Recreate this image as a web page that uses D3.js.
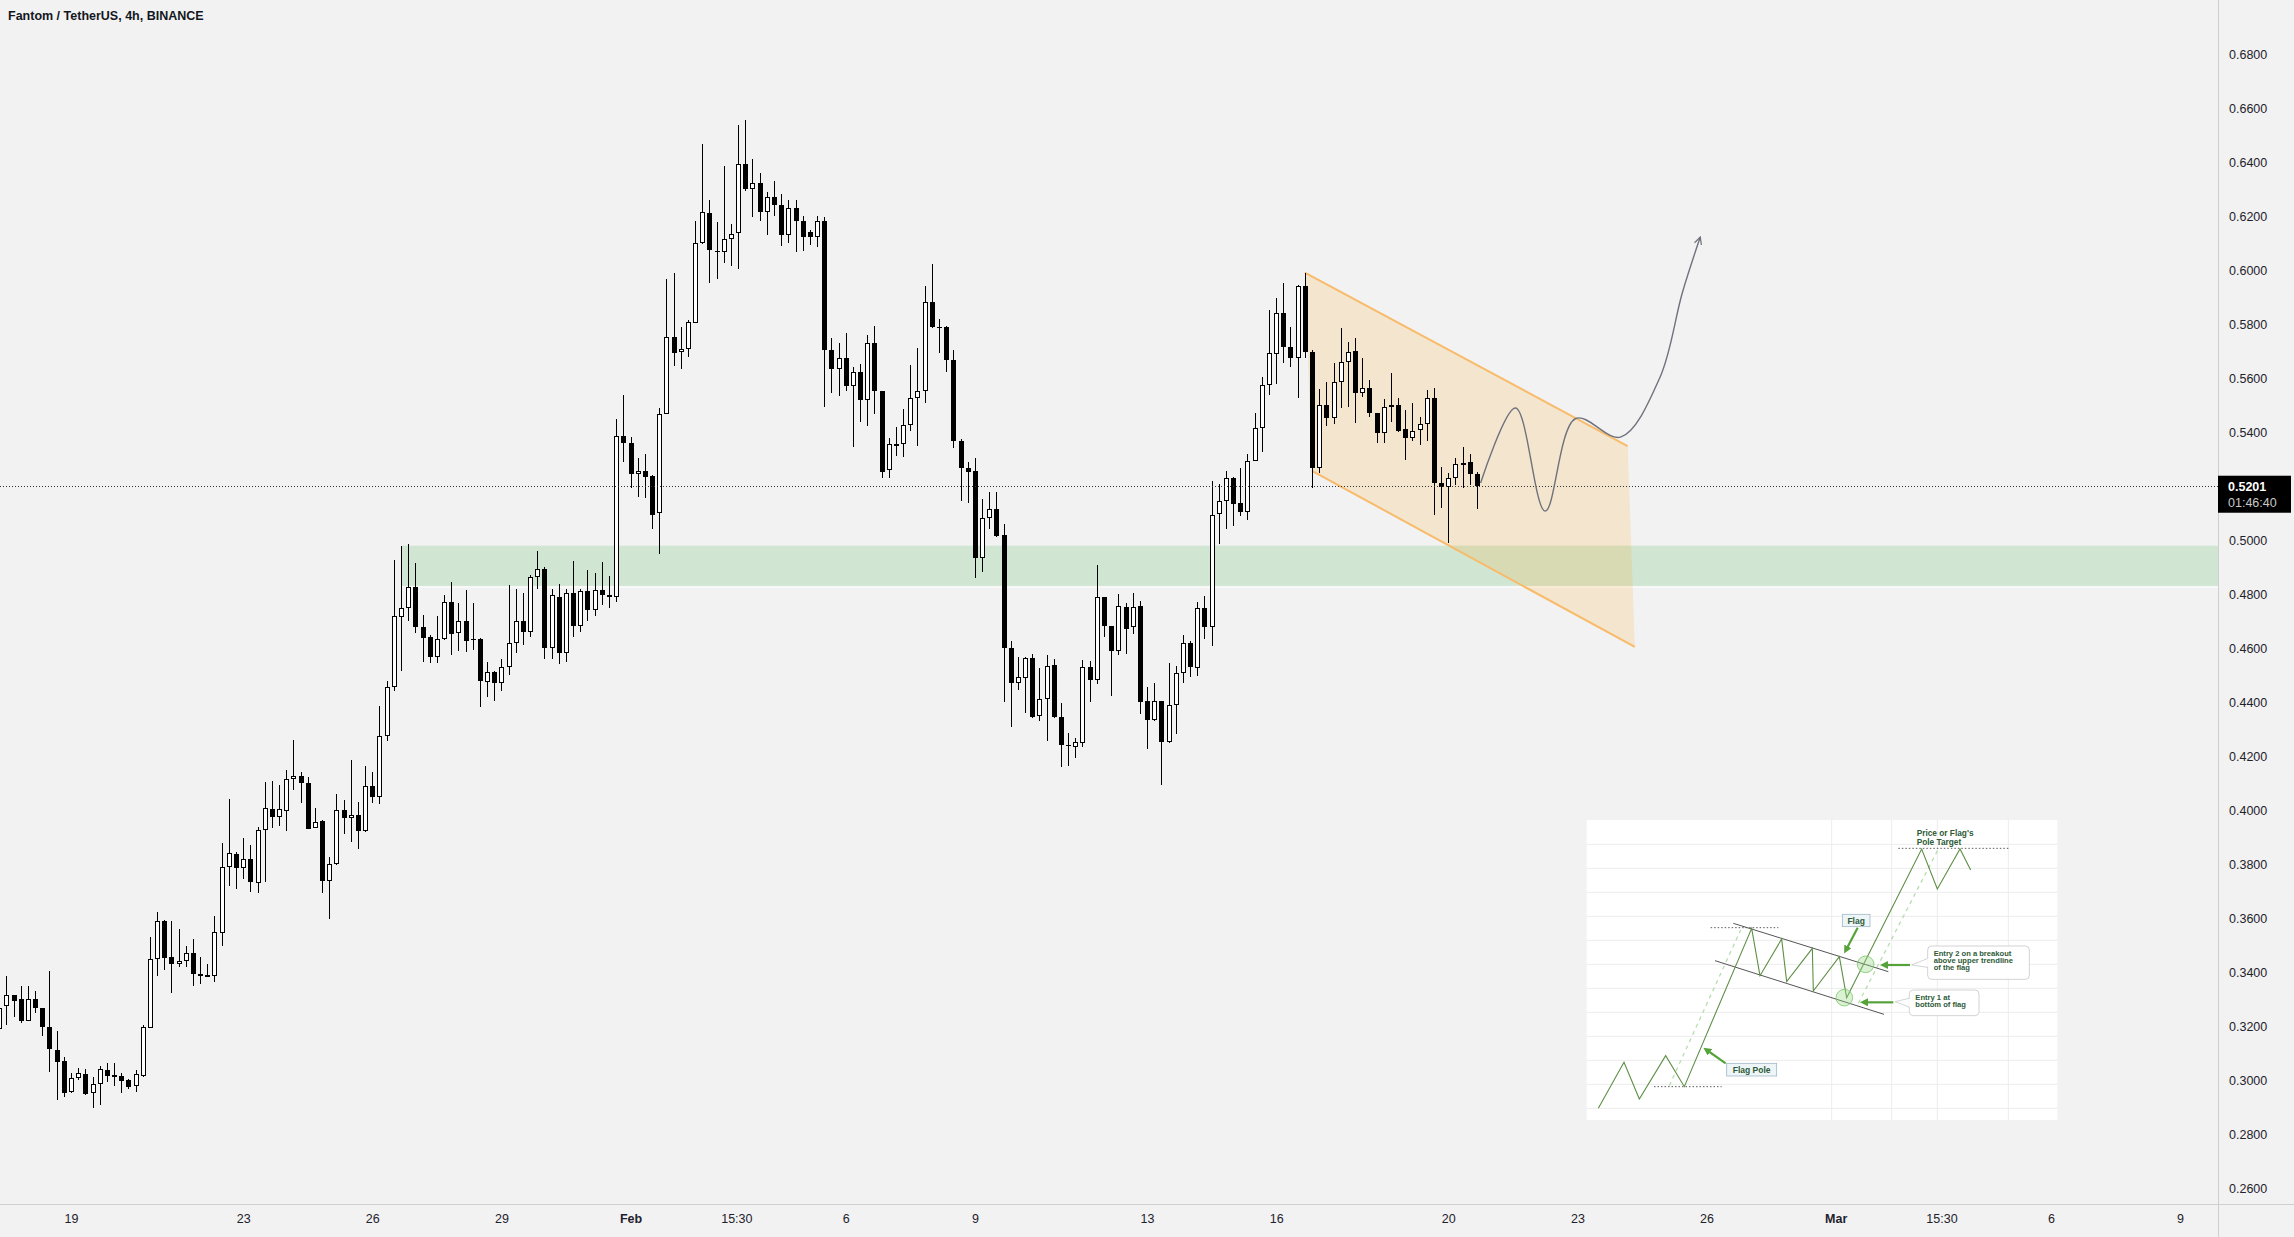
<!DOCTYPE html>
<html><head><meta charset="utf-8">
<script src="https://cdn.jsdelivr.net/npm/d3@7"></script>
<style>
html,body{margin:0;padding:0;background:#f2f2f2;}
svg{display:block;font-family:"Liberation Sans",Arial,sans-serif;}
</style></head>
<body>
<svg id="chart" width="2294" height="1237"></svg>
<script>
// ---------- DATA ----------
const title = "Fantom / TetherUS, 4h, BINANCE";
const firstCandle = "2023-01-17T08:00:00Z";   // 4h candles
const opens = [
.3188,.3273,.3314,.3299,.3220,.3299,.3266,.3198,.3111,.3070,
.2954,.3006,.3021,.2951,.2984,.3037,.3017,.3015,.3000,.2977,
.3016,.3194,.3447,.3590,.3454,.3428,.3442,.3472,.3391,.3385,
.3385,.3543,.3790,.3836,.3784,.3817,.3728,.3926,.4002,.3973,
.3997,.4114,.4126,.4099,.3935,.3959,.3738,.3799,.4000,.3969,
.3981,.3923,.4089,.4049,.4275,.4457,.4716,.4747,.4825,.4677,
.4640,.4568,.4632,.4769,.4657,.4701,.4635,.4635,.4475,.4512,
.4469,.4530,.4620,.4700,.4660,.4862,.4891,.4600,.4790,.4580,
.4802,.4680,.4811,.4740,.4815,.4796,.4788,.5385,.5358,.5243,
.5256,.5237,.5099,.5467,.5751,.5695,.5706,.5805,.6099,.6210,
.6072,.6068,.6114,.6136,.6391,.6301,.6321,.6216,.6270,.6240,
.6130,.6230,.6180,.6141,.6122,.6180,.5702,.5632,.5675,.5571,
.5622,.5520,.5731,.5550,.5259,.5352,.5354,.5427,.5526,.5550,
.5880,.5788,.5788,.5665,.5365,.5268,.5255,.4934,.5083,.5114,
.5017,.4599,.4470,.4489,.4562,.4348,.4410,.4536,.4344,.4242,
.4235,.4249,.4529,.4480,.4788,.4681,.4590,.4751,.4676,.4754,
.4403,.4335,.4403,.4251,.4388,.4506,.4619,.4526,.4747,.4679,
.5095,.5144,.5231,.5138,.5104,.5294,.5414,.5574,.5688,.5840,
.5716,.5673,.5941,.5698,.5265,.5500,.5451,.5586,.5661,.5700,
.5543,.5562,.5469,.5398,.5491,.5500,.5410,.5377,.5407,.5430,
.5525,.5210,.5198,.5228,.5280,.5288,.5244];
const highs = [
.3278,.3385,.3316,.3348,.3348,.3328,.3268,.3404,.3182,.3084,
.3025,.3043,.3040,.3010,.3052,.3062,.3062,.3027,.3005,.3037,
.3204,.3528,.3621,.3593,.3588,.3558,.3498,.3522,.3454,.3428,
.3607,.3879,.4041,.3846,.3895,.3870,.3938,.4102,.4107,.4093,
.4148,.4259,.4140,.4123,.4006,.3963,.3825,.4059,.4037,.4185,
.4031,.4164,.4140,.4385,.4478,.4926,.4979,.4984,.4916,.4722,
.4648,.4719,.4796,.4846,.4765,.4815,.4765,.4637,.4549,.4515,
.4560,.4833,.4817,.4805,.4870,.4960,.4901,.4817,.4836,.4820,
.4922,.4820,.4889,.4876,.4918,.4866,.5448,.5537,.5380,.5302,
.5318,.5240,.5488,.5967,.5990,.5790,.5815,.6183,.6467,.6259,
.6177,.6385,.6169,.6537,.6556,.6410,.6360,.6290,.6330,.6280,
.6260,.6260,.6200,.6150,.6200,.6195,.5749,.5731,.5767,.5642,
.5652,.5760,.5794,.5552,.5377,.5418,.5484,.5649,.5712,.5940,
.6022,.5820,.5794,.5702,.5374,.5288,.5304,.5153,.5176,.5176,
.5060,.4626,.4566,.4566,.4579,.4526,.4573,.4560,.4398,.4286,
.4266,.4556,.4553,.4907,.4790,.4683,.4800,.4767,.4804,.4774,
.4456,.4471,.4405,.4546,.4533,.4649,.4626,.4771,.4794,.5217,
.5208,.5254,.5233,.5267,.5320,.5470,.5605,.5852,.5895,.5951,
.5788,.5944,.5988,.5704,.5558,.5584,.5657,.5784,.5732,.5747,
.5673,.5593,.5472,.5521,.5617,.5525,.5481,.5509,.5457,.5556,
.5562,.5269,.5247,.5302,.5343,.5318,.5253];
const lows = [
.3179,.3204,.3232,.3210,.3218,.3250,.3163,.3031,.2926,.2938,
.2952,.3000,.2945,.2898,.2908,.2994,.2979,.2953,.2965,.2954,
.3012,.3191,.3387,.3408,.3321,.3417,.3420,.3348,.3354,.3383,
.3364,.3498,.3719,.3706,.3743,.3698,.3694,.3735,.3935,.3942,
.3924,.4074,.4027,.3928,.3933,.3691,.3595,.3797,.3911,.3883,
.3854,.3920,.4027,.4021,.4256,.4442,.4516,.4701,.4654,.4549,
.4543,.4543,.4630,.4574,.4590,.4586,.4593,.4383,.4420,.4405,
.4440,.4500,.4580,.4610,.4640,.4820,.4560,.4560,.4540,.4550,
.4640,.4660,.4700,.4720,.4760,.4750,.4770,.5290,.5194,.5160,
.5157,.5041,.4948,.5465,.5644,.5633,.5679,.5803,.6097,.5953,
.5967,.6025,.6015,.6002,.6294,.6198,.6180,.6130,.6200,.6090,
.6100,.6066,.6069,.6093,.6085,.5493,.5546,.5533,.5550,.5344,
.5438,.5421,.5467,.5229,.5231,.5312,.5308,.5405,.5348,.5509,
.5786,.5694,.5623,.5339,.5143,.5136,.4858,.4882,.5040,.5010,
.4399,.4308,.4444,.4361,.4341,.4331,.4255,.4342,.4159,.4163,
.4192,.4233,.4401,.4467,.4639,.4423,.4573,.4579,.4652,.4357,
.4225,.4331,.4094,.4249,.4282,.4470,.4493,.4497,.4632,.4606,
.4987,.5040,.5053,.5089,.5075,.5292,.5327,.5537,.5577,.5654,
.5642,.5525,.5673,.5191,.5249,.5424,.5430,.5488,.5491,.5435,
.5531,.5457,.5358,.5358,.5438,.5401,.5296,.5368,.5352,.5368,
.5093,.5117,.4990,.5204,.5191,.5204,.5113];
const closes = [
.3268,.3314,.3294,.3220,.3299,.3266,.3198,.3114,.3068,.2953,
.3006,.3025,.2949,.2984,.3040,.3016,.3012,.2998,.2975,.3021,
.3198,.3447,.3588,.3453,.3428,.3442,.3472,.3391,.3386,.3388,
.3547,.3790,.3840,.3784,.3817,.3732,.3925,.4006,.3973,.4002,
.4114,.4126,.4099,.3930,.3954,.3738,.3799,.4000,.3969,.3981,
.3923,.4089,.4049,.4275,.4457,.4718,.4747,.4827,.4677,.4638,
.4568,.4632,.4769,.4652,.4701,.4627,.4632,.4479,.4512,.4469,
.4530,.4620,.4700,.4660,.4862,.4891,.4600,.4795,.4580,.4802,
.4680,.4811,.4740,.4815,.4796,.4788,.5385,.5358,.5243,.5256,
.5235,.5092,.5467,.5751,.5691,.5707,.5809,.6099,.6214,.6074,
.6068,.6114,.6132,.6391,.6301,.6321,.6216,.6270,.6240,.6130,
.6230,.6180,.6122,.6122,.6180,.5705,.5632,.5675,.5571,.5622,
.5520,.5731,.5553,.5253,.5354,.5357,.5427,.5526,.5550,.5880,
.5788,.5786,.5665,.5365,.5266,.5252,.4934,.5083,.5114,.5013,
.4600,.4470,.4491,.4562,.4345,.4410,.4533,.4344,.4242,.4238,
.4251,.4529,.4480,.4788,.4681,.4590,.4754,.4672,.4751,.4401,
.4335,.4403,.4251,.4388,.4506,.4619,.4529,.4747,.4679,.5091,
.5144,.5231,.5135,.5102,.5294,.5413,.5574,.5691,.5840,.5716,
.5673,.5941,.5698,.5265,.5500,.5451,.5584,.5661,.5698,.5543,
.5562,.5472,.5398,.5491,.5500,.5405,.5377,.5404,.5430,.5525,
.5210,.5198,.5228,.5280,.5284,.5244,.5201];

const priceTicks = [0.26,0.28,0.30,0.32,0.34,0.36,0.38,0.40,0.42,0.44,0.46,0.48,0.50,0.52,0.54,0.56,0.58,0.60,0.62,0.64,0.66,0.68];
const timeTicks = ["2023-01-19","2023-01-23","2023-01-26","2023-01-29","2023-02-01","2023-02-03T11:00Z","2023-02-06","2023-02-09","2023-02-13","2023-02-16","2023-02-20","2023-02-23","2023-02-26","2023-03-01","2023-03-03T11:00Z","2023-03-06","2023-03-09"];
const timeTickLabels = ["19","23","26","29","Feb","15:30","6","9","13","16","20","23","26","Mar","15:30","6","9"];
const boldTickLabels = ["Feb","Mar"];

const lastPrice = 0.5201, countdown = "01:46:40";
const demandZone = {start:"2023-01-26T16:00Z", top:0.4979, bottom:0.4830};
const channelUpper = [["2023-02-16T16:00Z",0.5990],["2023-02-24T04:00Z",0.5348]];
const channelLower = [["2023-02-16T20:00Z",0.5256],["2023-02-24T08:00Z",0.4604]];
const projection = [
["2023-02-20T18:00Z",0.5211],["2023-02-21T13:30Z",0.5489],["2023-02-22T06:00Z",0.5107],
["2023-02-22T23:00Z",0.5450],["2023-02-24T00:00Z",0.5381],["2023-02-24T22:00Z",0.5602],
["2023-02-25T10:30Z",0.5916],["2023-02-25T20:30Z",0.6122]];

// inset diagram (its own unit space)
const insetFrame = [20,15,1432,915];
const insetGridRows = [88,160,232,304,376,448,520,592,664,736,808,880];
const insetGridCols = [755,935,1072,1285];
const insetPrice = [[55,880],[132,742],[178,852],[257,722],[313,815],[515,340],[540,482],[605,372],[620,500],[697,400],[700,528],[778,425],[800,548],[1025,102],[1072,222],[1140,102],[1172,165]];
const insetShadows = [[[268,812],[482,345]],[[835,565],[1075,102]]];
const insetDotted = [[[222,815],[425,815]],[[392,338],[595,338]],[[955,100],[1285,100]]];
const insetChannel = [[[460,325],[925,470]],[[405,437],[912,598]]];
const insetCircles = [[857,448],[793,548]];
const insetArrows = [[[833,338],[798,405]],[[437,745],[380,705]],[[990,450],[912,450]],[[940,562],[852,562]]];
const insetTags = [{x0:787,y0:298,x1:870,y1:335,text:"Flag"},{x0:440,y0:745,x1:590,y1:783,text:"Flag Pole"}];
const insetCallouts = [
 {x0:1043,y0:393,x1:1348,y1:493,tip:[995,450],lines:["Entry 2 on a breakout","above upper trendline","of the flag"]},
 {x0:988,y0:525,x1:1197,y1:602,tip:[945,560],lines:["Entry 1 at","bottom of flag"]}];
const insetTarget = {x:1010,y:55,lines:["Price or Flag's","Pole Target"]};

// ---------- CHART ----------
const W=2294,H=1237, plotR=2218, plotB=1204;
const svg=d3.select("#chart");
const parse=s=>new Date(s.length===10? s+"T00:00:00Z" : s);
const t0=parse(firstCandle).getTime();
const candles=opens.map((o,i)=>({t:new Date(t0+i*4*3600e3),o,h:highs[i],l:lows[i],c:closes[i]}));

const x=d3.scaleUtc().domain([parse("2023-01-19"),parse("2023-03-09")]).range([71,2180]);
const y=d3.scaleLinear().domain([0.26,0.68]).range([1188,54]);

svg.append("rect").attr("width",W).attr("height",H).attr("fill","#f2f2f2");
svg.append("defs").append("clipPath").attr("id","plot").append("rect").attr("x",0).attr("y",0).attr("width",plotR).attr("height",plotB);
const plot=svg.append("g").attr("clip-path","url(#plot)");

// demand zone
plot.append("rect").attr("x",x(parse(demandZone.start))).attr("y",y(demandZone.top))
 .attr("width",plotR-x(parse(demandZone.start))).attr("height",y(demandZone.bottom)-y(demandZone.top))
 .attr("fill","#d0e6d3");
plot.append("line").attr("x1",x(parse(demandZone.start))).attr("x2",plotR)
 .attr("y1",y(demandZone.bottom)+1).attr("y2",y(demandZone.bottom)+1).attr("stroke","#f8f8f8").attr("stroke-width",2);

// channel
const cu=channelUpper.map(d=>[x(parse(d[0])),y(d[1])]), cl=channelLower.map(d=>[x(parse(d[0])),y(d[1])]);
plot.append("path").attr("d",d3.line()([cu[0],cu[1],cl[1],cl[0]])+"Z").attr("fill","rgba(255,152,0,0.15)");
[cu,cl].forEach(l=>plot.append("path").attr("d",d3.line()(l)).attr("stroke","#f7bb6a").attr("stroke-width",2).attr("fill","none"));

// candles
const cg=plot.append("g").attr("shape-rendering","crispEdges");
cg.selectAll("line").data(candles).join("line")
 .attr("x1",d=>Math.round(x(d.t))+0.5).attr("x2",d=>Math.round(x(d.t))+0.5)
 .attr("y1",d=>Math.round(y(d.h))).attr("y2",d=>Math.round(y(d.l)))
 .attr("stroke","#000").attr("stroke-width",1);
cg.selectAll("rect").data(candles).join("rect")
 .each(function(d){
   const cx=Math.round(x(d.t)), top=Math.round(y(Math.max(d.o,d.c))), bot=Math.round(y(Math.min(d.o,d.c)));
   const s=d3.select(this);
   if(d.c>=d.o){ s.attr("x",cx-1.5).attr("y",top+0.5).attr("width",4).attr("height",Math.max(1,bot-top-1)).attr("fill","#fff").attr("stroke","#000").attr("stroke-width",1); }
   else { s.attr("x",cx-2).attr("y",top).attr("width",5).attr("height",Math.max(1,bot-top)).attr("fill","#000"); }
 });

// last price line
plot.append("line").attr("x1",0).attr("x2",plotR).attr("y1",Math.round(y(lastPrice))+0.5).attr("y2",Math.round(y(lastPrice))+0.5)
 .attr("stroke","#333").attr("stroke-dasharray","1,2");

// projection path
const defs=svg.select("defs");
defs.append("marker").attr("id","arr").attr("viewBox","0 0 10 10").attr("refX",9).attr("refY",5)
 .attr("markerWidth",9).attr("markerHeight",9).attr("markerUnits","userSpaceOnUse").attr("orient","auto")
 .append("path").attr("d","M1,1 L9,5 L1,9").attr("fill","none").attr("stroke","#6f727c").attr("stroke-width",1.4);
plot.append("path").attr("d",d3.line().curve(d3.curveCatmullRom.alpha(0.5))(projection.map(d=>[x(parse(d[0])),y(d[1])])))
 .attr("fill","none").attr("stroke","#6f727c").attr("stroke-width",1.4).attr("marker-end","url(#arr)");

// ---------- INSET ----------
const ix=d3.scaleLinear().domain([0,1440]).range([1580,2060]);
const iy=d3.scaleLinear().domain([0,930]).range([815,1125]);
const ins=svg.append("g");
const P=p=>[ix(p[0]),iy(p[1])];
ins.append("rect").attr("x",ix(insetFrame[0])).attr("y",iy(insetFrame[1])).attr("width",ix(insetFrame[2])-ix(insetFrame[0])).attr("height",iy(insetFrame[3])-iy(insetFrame[1])).attr("fill","#fff");
ins.selectAll(".gr").data(insetGridRows).join("line").attr("x1",ix(insetFrame[0])).attr("x2",ix(insetFrame[2])).attr("y1",d=>iy(d)).attr("y2",d=>iy(d)).attr("stroke","#ececec");
ins.selectAll(".gc").data(insetGridCols).join("line").attr("y1",iy(insetFrame[1])).attr("y2",iy(insetFrame[3])).attr("x1",d=>ix(d)).attr("x2",d=>ix(d)).attr("stroke","#ececec");
insetShadows.forEach(s=>ins.append("path").attr("d",d3.line()(s.map(P))).attr("stroke","#b8ddb0").attr("stroke-width",1.3).attr("stroke-dasharray","4,4").attr("fill","none"));
insetDotted.forEach(s=>ins.append("path").attr("d",d3.line()(s.map(P))).attr("stroke","#333").attr("stroke-width",0.8).attr("stroke-dasharray","1.5,2").attr("fill","none"));
insetChannel.forEach(s=>ins.append("path").attr("d",d3.line()(s.map(P))).attr("stroke","#555").attr("stroke-width",1).attr("fill","none"));
ins.append("path").attr("d",d3.line()(insetPrice.map(P))).attr("stroke","#5e8f46").attr("stroke-width",1.1).attr("fill","none");
ins.selectAll("circle").data(insetCircles).join("circle").attr("cx",d=>ix(d[0])).attr("cy",d=>iy(d[1])).attr("r",8.3)
 .attr("fill","rgba(150,215,130,0.35)").attr("stroke","#7cc46a").attr("stroke-width",0.8);
defs.append("marker").attr("id","garr").attr("viewBox","0 0 10 10").attr("refX",5).attr("refY",5)
 .attr("markerWidth",8).attr("markerHeight",8).attr("markerUnits","userSpaceOnUse").attr("orient","auto")
 .append("path").attr("d","M0,0 L10,5 L0,10 Z").attr("fill","#57a33b");
insetArrows.forEach(s=>ins.append("path").attr("d",d3.line()(s.map(P))).attr("stroke","#57a33b").attr("stroke-width",2.2).attr("fill","none").attr("marker-end","url(#garr)"));
const txtCol="#2d5b35";
insetTags.forEach(t=>{
 ins.append("rect").attr("x",ix(t.x0)).attr("y",iy(t.y0)).attr("width",ix(t.x1)-ix(t.x0)).attr("height",iy(t.y1)-iy(t.y0)).attr("fill","#eef5f8").attr("stroke","#9fb7c6").attr("stroke-width",0.8);
 ins.append("text").attr("x",(ix(t.x0)+ix(t.x1))/2).attr("y",(iy(t.y0)+iy(t.y1))/2).attr("text-anchor","middle").attr("dominant-baseline","central")
  .attr("font-size",8.5).attr("font-weight","bold").attr("fill",txtCol).text(t.text);
});
insetCallouts.forEach(c=>{
 const mid=(iy(c.y0)+iy(c.y1))/2;
 ins.append("path").attr("d",d3.line()([[ix(c.x0)+2,mid-5],P(c.tip),[ix(c.x0)+2,mid+5]])).attr("fill","#fff").attr("stroke","#c8c8c8").attr("stroke-width",0.8);
 ins.append("rect").attr("x",ix(c.x0)).attr("y",iy(c.y0)).attr("width",ix(c.x1)-ix(c.x0)).attr("height",iy(c.y1)-iy(c.y0)).attr("rx",4)
  .attr("fill","#fff").attr("stroke","#c8c8c8").attr("stroke-width",0.8);
 ins.append("rect").attr("x",ix(c.x0)-0.5).attr("y",mid-4).attr("width",2).attr("height",8).attr("fill","#fff");
 c.lines.forEach((l,i)=>ins.append("text").attr("x",ix(c.x0)+6).attr("y",iy(c.y0)+10+i*7.2).attr("font-size",7.6).attr("font-weight","bold").attr("fill",txtCol).text(l));
});
insetTarget.lines.forEach((l,i)=>ins.append("text").attr("x",ix(insetTarget.x)).attr("y",iy(insetTarget.y)+3+i*8.3).attr("font-size",8.3).attr("font-weight","bold").attr("fill",txtCol).text(l));

// ---------- AXES ----------
svg.append("line").attr("x1",plotR+0.5).attr("x2",plotR+0.5).attr("y1",0).attr("y2",H).attr("stroke","#cfcfcf");
svg.append("line").attr("x1",0).attr("x2",W).attr("y1",plotB+0.5).attr("y2",plotB+0.5).attr("stroke","#cfcfcf");
const yAxis=d3.axisRight(y).tickValues(priceTicks).tickFormat(d3.format(".4f")).tickSize(0).tickPadding(11);
const ya=svg.append("g").attr("transform",`translate(${plotR},0)`).call(yAxis);
ya.select(".domain").remove();
ya.selectAll("text").attr("font-size",12.5).attr("fill","#1e222d").attr("font-family","Liberation Sans, Arial, sans-serif");
const xAxis=d3.axisBottom(x).tickValues(timeTicks.map(parse)).tickFormat((d,i)=>timeTickLabels[i]).tickSize(0).tickPadding(10);
const xa=svg.append("g").attr("transform",`translate(0,${plotB})`).call(xAxis);
xa.select(".domain").remove();
xa.selectAll("text").attr("font-size",12.5).attr("fill","#1e222d").attr("font-family","Liberation Sans, Arial, sans-serif")
 .attr("font-weight",(d,i)=>boldTickLabels.includes(timeTickLabels[i])?"bold":"normal");

// last price tag
const py=y(lastPrice);
svg.append("rect").attr("x",plotR).attr("y",py-10).attr("width",73).attr("height",37).attr("fill","#000");
svg.append("text").attr("x",plotR+10).attr("y",py+2).attr("dominant-baseline","middle").attr("font-size",12.5).attr("font-weight","bold").attr("fill","#fff").text(d3.format(".4f")(lastPrice));
svg.append("text").attr("x",plotR+10).attr("y",py+18).attr("dominant-baseline","middle").attr("font-size",12.5).attr("fill","#c8c8c8").text(countdown);

// title
svg.append("text").attr("x",8).attr("y",20).attr("font-size",12.5).attr("font-weight","bold").attr("fill","#131722").text(title);
</script>
</body></html>
